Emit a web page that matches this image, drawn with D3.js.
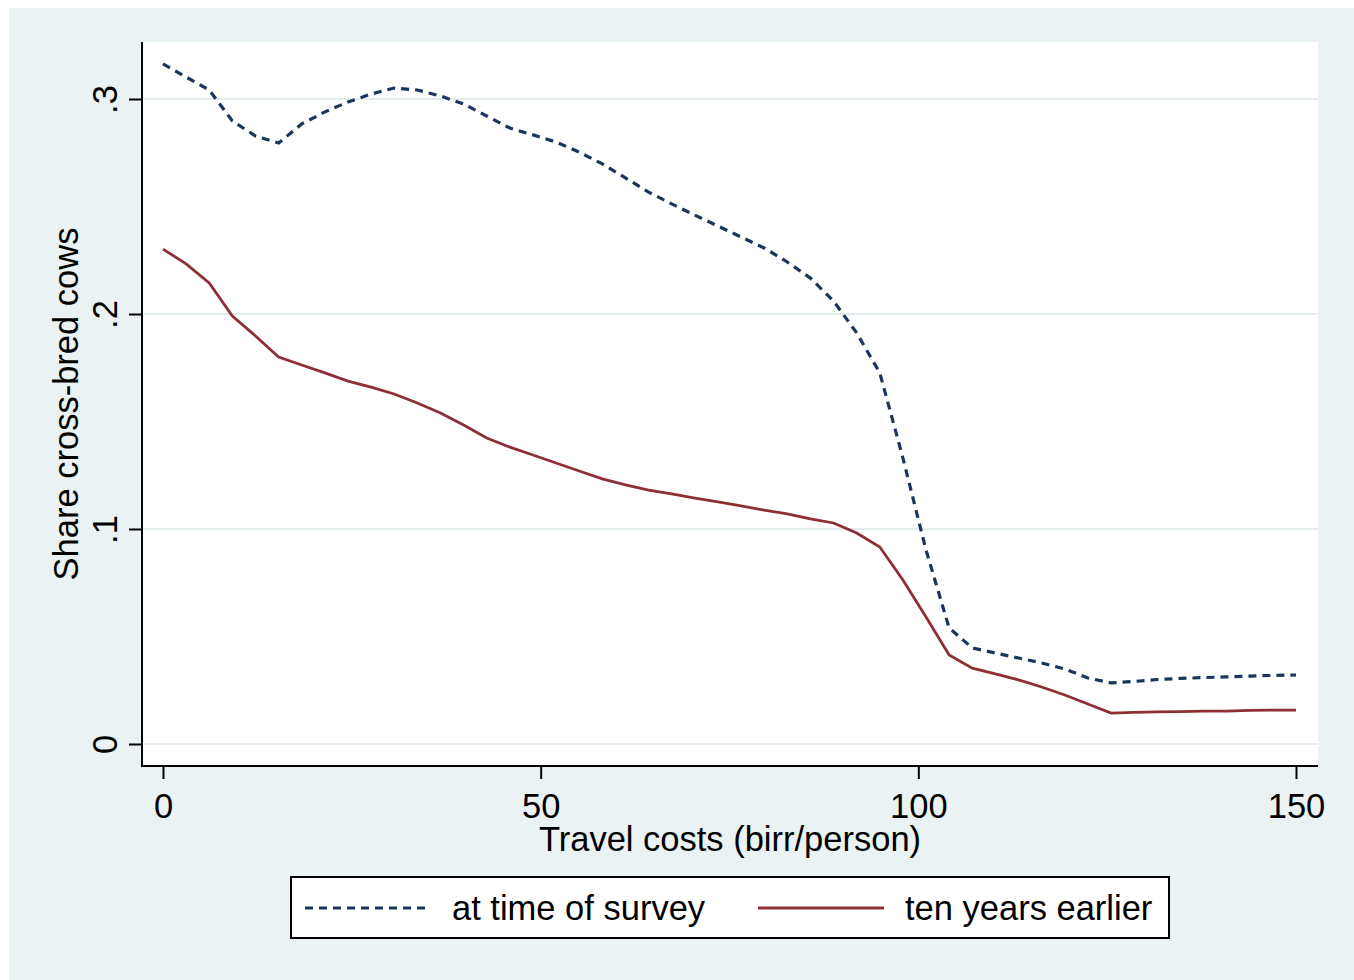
<!DOCTYPE html>
<html>
<head>
<meta charset="utf-8">
<script src="https://cdn.jsdelivr.net/npm/d3@7"></script>
<style>
  body { margin: 0; background: #fff; }
  svg { display: block; font-family: Arial, "Liberation Sans", sans-serif; }
</style>
</head>
<body>
<svg id="chart" width="1354" height="980"></svg>
<script>
// travel cost grid (birr/person)
const travelCost = [0, 3.06, 6.12, 9.18, 12.24, 15.31, 18.37, 21.43, 24.49, 27.55,
  30.61, 33.67, 36.73, 39.80, 42.86, 45.92, 48.98, 52.04, 55.10, 58.16,
  61.22, 64.29, 67.35, 70.41, 73.47, 76.53, 79.59, 82.65, 85.71, 88.78,
  91.84, 94.90, 97.96, 101.02, 104.08, 107.14, 110.20, 113.27, 116.33, 119.39,
  122.45, 125.51, 128.57, 131.63, 134.69, 137.76, 140.82, 143.88, 146.94, 150];

const shareSurvey = [0.3163, 0.3102, 0.3042, 0.2898, 0.2828, 0.2795, 0.2884, 0.2940, 0.2986, 0.3023,
  0.3051, 0.3042, 0.3014, 0.2977, 0.2921, 0.2865, 0.2833, 0.2800, 0.2753, 0.2698,
  0.2633, 0.2567, 0.2512, 0.2460, 0.2409, 0.2358, 0.2307, 0.2242, 0.2167, 0.2060,
  0.1912, 0.1726, 0.1330, 0.0902, 0.0540, 0.0447, 0.0423, 0.0400, 0.0377, 0.0349,
  0.0307, 0.0284, 0.0291, 0.0300, 0.0305, 0.0309, 0.0312, 0.0316, 0.0319, 0.0321];

const shareEarlier = [0.2302, 0.2233, 0.2144, 0.1991, 0.1898, 0.1800, 0.1763, 0.1726, 0.1688, 0.1660,
  0.1628, 0.1586, 0.1540, 0.1484, 0.1423, 0.1381, 0.1344, 0.1307, 0.1270, 0.1233,
  0.1205, 0.1181, 0.1163, 0.1144, 0.1126, 0.1107, 0.1088, 0.1070, 0.1047, 0.1028,
  0.0981, 0.0916, 0.0763, 0.0591, 0.0414, 0.0353, 0.0326, 0.0298, 0.0265, 0.0228,
  0.0186, 0.0144, 0.0147, 0.0149, 0.0151, 0.0153, 0.0153, 0.0156, 0.0158, 0.0158];

const xTicks = [0, 50, 100, 150];
const yTicks = [0, 0.1, 0.2, 0.3];
const seriesNames = ["at time of survey", "ten years earlier"];

const navy = "#1b365d";
const maroon = "#8e2f36";
const panelColor = "#eaf2f3";
const gridColor = "#e3ecee";
const fontSize = 34.5;

const svg = d3.select("#chart");

// outer panel and plot region
svg.append("rect").attr("x", 9).attr("y", 8).attr("width", 1345).attr("height", 972).attr("fill", panelColor);
svg.append("rect").attr("x", 142).attr("y", 42).attr("width", 1176).attr("height", 724).attr("fill", "#fff");

const x = d3.scaleLinear().domain([0, 150]).range([163, 1296]);
const y = d3.scaleLinear().domain([0, 0.3]).range([744, 99]);

// gridlines
svg.append("g").selectAll("line")
  .data(yTicks)
  .enter().append("line")
  .attr("x1", 144).attr("x2", 1318)
  .attr("y1", d => y(d)).attr("y2", d => y(d))
  .attr("stroke", gridColor).attr("stroke-width", 2);

const fmtY = d => d === 0 ? "0" : d3.format(".1f")(d).replace(/^0/, "");

const yAxis = svg.append("g")
  .attr("transform", "translate(142,0)")
  .call(d3.axisLeft(y).tickValues(yTicks).tickSize(13).tickFormat(fmtY));
yAxis.select(".domain").remove();
yAxis.selectAll(".tick line").attr("stroke", "#000").attr("stroke-width", 2);
yAxis.selectAll(".tick text")
  .attr("x", null).attr("dy", null)
  .attr("text-anchor", "middle")
  .attr("transform", "translate(-25,0) rotate(-90)")
  .attr("font-size", fontSize).attr("font-family", "Arial, 'Liberation Sans', sans-serif")
  .attr("fill", "#000");

const xAxis = svg.append("g")
  .attr("transform", "translate(0,766)")
  .call(d3.axisBottom(x).tickValues(xTicks).tickSize(13).tickFormat(d3.format("d")));
xAxis.select(".domain").remove();
xAxis.selectAll(".tick line").attr("stroke", "#000").attr("stroke-width", 2);
xAxis.selectAll(".tick text")
  .attr("y", 52).attr("dy", null)
  .attr("font-size", fontSize).attr("font-family", "Arial, 'Liberation Sans', sans-serif")
  .attr("fill", "#000");

// axis lines
svg.append("line").attr("x1", 142).attr("x2", 142).attr("y1", 42).attr("y2", 767)
  .attr("stroke", "#000").attr("stroke-width", 2);
svg.append("line").attr("x1", 141).attr("x2", 1318).attr("y1", 766).attr("y2", 766)
  .attr("stroke", "#000").attr("stroke-width", 2);

// series
const line = d3.line()
  .x((d, i) => x(travelCost[i]))
  .y(d => y(d));

svg.append("path")
  .datum(shareSurvey)
  .attr("d", line)
  .attr("fill", "none")
  .attr("stroke", navy)
  .attr("stroke-width", 3.2)
  .attr("stroke-dasharray", "8,6");

svg.append("path")
  .datum(shareEarlier)
  .attr("d", line)
  .attr("fill", "none")
  .attr("stroke", maroon)
  .attr("stroke-width", 2.8);

// axis titles
svg.append("text")
  .attr("x", 730).attr("y", 851)
  .attr("text-anchor", "middle")
  .attr("font-size", fontSize)
  .text("Travel costs (birr/person)");

svg.append("text")
  .attr("transform", "translate(78,404) rotate(-90)")
  .attr("text-anchor", "middle")
  .attr("font-size", fontSize)
  .text("Share cross-bred cows");

// legend
const legend = svg.append("g");
legend.append("rect")
  .attr("x", 291).attr("y", 877).attr("width", 878).attr("height", 61)
  .attr("fill", "#fff").attr("stroke", "#000").attr("stroke-width", 2);

legend.append("line")
  .attr("x1", 305).attr("x2", 431).attr("y1", 908).attr("y2", 908)
  .attr("stroke", navy).attr("stroke-width", 3.2).attr("stroke-dasharray", "8,6");
legend.append("text")
  .attr("x", 452).attr("y", 920)
  .attr("font-size", fontSize)
  .text(seriesNames[0]);

legend.append("line")
  .attr("x1", 758).attr("x2", 884).attr("y1", 908).attr("y2", 908)
  .attr("stroke", maroon).attr("stroke-width", 2.8);
legend.append("text")
  .attr("x", 905).attr("y", 920)
  .attr("font-size", fontSize)
  .text(seriesNames[1]);
</script>
</body>
</html>
